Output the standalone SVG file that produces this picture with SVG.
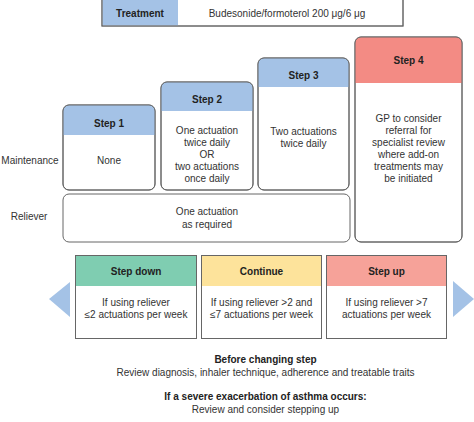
<svg xmlns="http://www.w3.org/2000/svg" width="474" height="422" viewBox="0 0 474 422">
<style>
text{font-family:"Liberation Sans",Arial,sans-serif;font-size:10px;fill:#333;text-anchor:middle}
.b{font-weight:bold;fill:#222}
.box{fill:#fff;stroke:#666;stroke-width:1}
.blue{fill:#a4c2e6}
.red{fill:#f38b84}
.green{fill:#7fcdb1}
.yellow{fill:#fde39b}
.pink{fill:#f6a299}
.arrow{fill:#a4c2e6}
</style>
<defs>
<clipPath id="c1"><rect x="63" y="105" width="92" height="85" rx="6"/></clipPath>
<clipPath id="c2"><rect x="161" y="82" width="92" height="108" rx="6"/></clipPath>
<clipPath id="c3"><rect x="258" y="58" width="91" height="132" rx="6"/></clipPath>
<clipPath id="c4"><rect x="355" y="37" width="107" height="205" rx="6"/></clipPath>
</defs>
<g id="treatment">
<rect x="102" y="-1" width="301" height="27" class="box"/>
<rect x="102.5" y="-0.5" width="75.5" height="26" class="blue"/>
<rect x="102" y="-1" width="301" height="27" fill="none" stroke="#666"/>
<text x="140" y="17" class="b">Treatment</text>
<text x="287" y="17">Budesonide/formoterol 200 μg/6 μg</text>
</g>
<g id="labels">
<text x="30" y="164">Maintenance</text>
<text x="29" y="220">Reliever</text>
</g>
<g id="step1">
<rect x="63" y="105" width="92" height="85" rx="6" class="box"/>
<rect x="63" y="105" width="92" height="30" class="blue" clip-path="url(#c1)"/>
<rect x="63" y="105" width="92" height="85" rx="6" fill="none" stroke="#666"/>
<text x="109" y="127" class="b">Step 1</text>
<text x="109" y="164">None</text>
</g>
<g id="step2">
<rect x="161" y="82" width="92" height="108" rx="6" class="box"/>
<rect x="161" y="82" width="92" height="29" class="blue" clip-path="url(#c2)"/>
<rect x="161" y="82" width="92" height="108" rx="6" fill="none" stroke="#666"/>
<text x="207" y="103" class="b">Step 2</text>
<text x="207" y="134">One actuation</text>
<text x="207" y="146">twice daily</text>
<text x="207" y="158">OR</text>
<text x="207" y="170">two actuations</text>
<text x="207" y="182">once daily</text>
</g>
<g id="step3">
<rect x="258" y="58" width="91" height="132" rx="6" class="box"/>
<rect x="258" y="58" width="91" height="29" class="blue" clip-path="url(#c3)"/>
<rect x="258" y="58" width="91" height="132" rx="6" fill="none" stroke="#666"/>
<text x="303.5" y="79" class="b">Step 3</text>
<text x="303.5" y="135">Two actuations</text>
<text x="303.5" y="147">twice daily</text>
</g>
<g id="step4">
<rect x="355" y="37" width="107" height="205" rx="6" class="box"/>
<rect x="355" y="37" width="107" height="46" class="red" clip-path="url(#c4)"/>
<rect x="355" y="37" width="107" height="205" rx="6" fill="none" stroke="#666"/>
<text x="408.5" y="64" class="b">Step 4</text>
<text x="408.5" y="122">GP to consider</text>
<text x="408.5" y="134">referral for</text>
<text x="408.5" y="146">specialist review</text>
<text x="408.5" y="158">where add-on</text>
<text x="408.5" y="170">treatments may</text>
<text x="408.5" y="182">be initiated</text>
</g>
<g id="reliever">
<rect x="63" y="194" width="287" height="48" rx="6" class="box"/>
<text x="207" y="215">One actuation</text>
<text x="207" y="228">as required</text>
</g>
<g id="stepdown">
<rect x="75.5" y="255.5" width="121" height="83" class="box"/>
<rect x="76" y="256" width="120" height="30" class="green"/>
<text x="136" y="275" class="b">Step down</text>
<text x="136" y="306">If using reliever</text>
<text x="136" y="318">≤2 actuations per week</text>
</g>
<g id="continue">
<rect x="201.5" y="255.5" width="120" height="83" class="box"/>
<rect x="202" y="256" width="119" height="30" class="yellow"/>
<text x="261.5" y="275" class="b">Continue</text>
<text x="261.5" y="306">If using reliever &gt;2 and</text>
<text x="261.5" y="318">≤7 actuations per week</text>
</g>
<g id="stepup">
<rect x="326.5" y="255.5" width="120" height="83" class="box"/>
<rect x="327" y="256" width="119" height="30" class="pink"/>
<text x="386.5" y="275" class="b">Step up</text>
<text x="386.5" y="306">If using reliever &gt;7</text>
<text x="386.5" y="318">actuations per week</text>
</g>
<g id="connectors">
<polygon points="49,299 70,282 70,317" class="arrow"/>
<polygon points="453,281 474,299 453,317" class="arrow"/>
</g>
<g id="notes">
<text x="265.5" y="363" class="b">Before changing step</text>
<text x="265.5" y="376">Review diagnosis, inhaler technique, adherence and treatable traits</text>
<text x="265.5" y="400" class="b">If a severe exacerbation of asthma occurs:</text>
<text x="265.5" y="413">Review and consider stepping up</text>
</g>
</svg>
